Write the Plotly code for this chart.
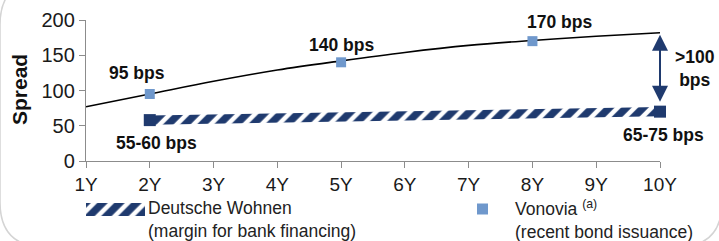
import plotly.graph_objects as go

# ---- data ----
tenor_vals = [1, 2, 3, 4, 5, 6, 7, 8, 9, 10]
tenor_labels = ["1Y", "2Y", "3Y", "4Y", "5Y", "6Y", "7Y", "8Y", "9Y", "10Y"]
trend_values = [77, 95, 113, 129, 142, 154, 164, 171, 177, 182]

vonovia_tenors = [2, 5, 8]
vonovia_values = [95, 140, 170]
vonovia_labels = ["95 bps", "140 bps", "170 bps"]

dw_tenors = [2, 10]
dw_values = [58, 70]
dw_labels = ["55-60 bps", "65-75 bps"]

gap_low = 82
gap_high = 179
gap_label = ">100<br>bps"

legend_dw = "Deutsche Wohnen<br>(margin for bank financing)"
legend_vono = "Vonovia <sup>(a)</sup><br>(recent bond issuance)"

NAVY = "#1f3a6e"
LIGHT = "#6f98cc"
FONT = "Liberation Sans, Arial, sans-serif"
W, H = 719, 241
BAND = 6.5  # half thickness of hatched band (data units)
HATCH = dict(shape="/", fgcolor=NAVY, bgcolor="white", size=12, solidity=0.62, fgopacity=1)
LBL = 17.5

fig = go.Figure()

# trend curve
fig.add_trace(go.Scatter(
    x=tenor_vals, y=trend_values, mode="lines",
    line=dict(color="black", width=1.6, shape="spline"),
    showlegend=False, hoverinfo="skip", cliponaxis=False))

# Deutsche Wohnen hatched band
band_x = dw_tenors + dw_tenors[::-1] + [dw_tenors[0]]
band_y = [v + BAND for v in dw_values] + [v - BAND for v in dw_values[::-1]] + [dw_values[0] + BAND]
fig.add_trace(go.Scatter(
    x=band_x, y=band_y, mode="none", fill="toself", fillcolor="white",
    fillpattern=HATCH, showlegend=False, hoverinfo="skip"))
fig.add_trace(go.Scatter(
    x=dw_tenors, y=dw_values, mode="markers",
    marker=dict(symbol="square", size=12, color=NAVY),
    showlegend=False, cliponaxis=False))

# Vonovia
fig.add_trace(go.Scatter(
    x=vonovia_tenors, y=vonovia_values, mode="markers",
    marker=dict(symbol="square", size=10, color=LIGHT),
    showlegend=False, cliponaxis=False))

# ---- pixel-space overlay for legend + frame ----
lg_x = [86, 145, 145, 86, 86]
lg_y = [216, 216, 203, 203, 216]
fig.add_trace(go.Scatter(
    x=lg_x, y=lg_y, xaxis="x2", yaxis="y2", mode="none", fill="toself", fillcolor="white",
    fillpattern=HATCH, showlegend=False, hoverinfo="skip"))
fig.add_trace(go.Scatter(
    x=[482.5], y=[209], xaxis="x2", yaxis="y2", mode="markers",
    marker=dict(symbol="square", size=11, color=LIGHT),
    showlegend=False, hoverinfo="skip"))

ann = []
label_offsets_v = [(-0.2, 30), (0.0, 24.5), (0.42, 27)]
for (t, v, s), (dx, dy) in zip(zip(vonovia_tenors, vonovia_values, vonovia_labels), label_offsets_v):
    ann.append(dict(x=t + dx, y=v + dy, text="<b>" + s + "</b>", showarrow=False,
                    font=dict(family=FONT, size=LBL, color="#111"), xref="x", yref="y"))
# DW labels (pixel space, the right one sits past the axis end)
dw_label_pos = [(156, 143), (663, 135)]
for s, (px, py) in zip(dw_labels, dw_label_pos):
    ann.append(dict(x=px, y=py, text="<b>" + s + "</b>", showarrow=False,
                    font=dict(family=FONT, size=LBL, color="#111"), xref="x2", yref="y2"))

# gap arrow
ann.append(dict(x=10, y=gap_high, ax=10, ay=gap_low, xref="x", yref="y", axref="x", ayref="y",
                text="", showarrow=True, arrowhead=2, startarrowhead=2, arrowside="end+start",
                arrowsize=1.6, startarrowsize=1.6, arrowwidth=2, arrowcolor=NAVY))
ann.append(dict(x=695, y=68, text="<b>" + gap_label + "</b>",
                showarrow=False, xref="x2", yref="y2",
                font=dict(family=FONT, size=LBL, color="#111")))

# y axis title
ann.append(dict(x=19, y=90, xref="x2", yref="y2", text="<b>Spread</b>", textangle=-90,
                showarrow=False, font=dict(family=FONT, size=21, color="#111")))

# legend texts
ann.append(dict(x=146, y=219, xref="x2", yref="y2", text=legend_dw, showarrow=False,
                xanchor="left", yanchor="middle", align="left",
                font=dict(family=FONT, size=17.5, color="#222")))
ann.append(dict(x=513, y=219, xref="x2", yref="y2", text=legend_vono, showarrow=False,
                xanchor="left", yanchor="middle", align="left",
                font=dict(family=FONT, size=17.5, color="#222")))

frame = ("M 45,-20 Q 0,-20 0,25 L 0,202 Q 0,247 45,247 L 677,247 "
         "Q 722,247 722,202 L 722,25")

fig.update_layout(
    width=W, height=H,
    margin=dict(l=0, r=0, t=0, b=0, pad=0),
    paper_bgcolor="white", plot_bgcolor="rgba(0,0,0,0)",
    font=dict(family=FONT, color="#222"),
    annotations=ann,
    showlegend=False,
    shapes=[dict(type="path", xref="x2", yref="y2", path=frame,
                 line=dict(color="#d4d4d4", width=1.5), layer="below")],
    xaxis=dict(domain=[86 / W, 660 / W], range=[1, 10], tickvals=tenor_vals, ticktext=tenor_labels,
               showgrid=False, zeroline=False, showline=True, linecolor="#8c8c8c", linewidth=1.3,
               ticks="outside", ticklen=6, tickcolor="#8c8c8c", tickwidth=1.3, automargin=False,
               tickfont=dict(family=FONT, size=19, color="#1a1a1a"), anchor="y", fixedrange=True),
    yaxis=dict(domain=[1 - 161 / H, 1 - 20 / H], range=[0, 200], dtick=50, showgrid=False,
               zeroline=False, showline=True, linecolor="#8c8c8c", linewidth=1.3, ticks="outside",
               ticklen=6, tickcolor="#8c8c8c", tickwidth=1.3, automargin=False,
               tickfont=dict(family=FONT, size=20, color="#1a1a1a"), anchor="x", fixedrange=True),
    xaxis2=dict(domain=[0, 1], range=[0, W], visible=False, anchor="y2", fixedrange=True,
                automargin=False),
    yaxis2=dict(domain=[0, 1], range=[H, 0], visible=False, anchor="x2", fixedrange=True,
                automargin=False),
)

fig.write_html("out.html", config={"displayModeBar": False},
               post_script="document.body.style.margin='0';document.body.style.overflow='hidden';")
